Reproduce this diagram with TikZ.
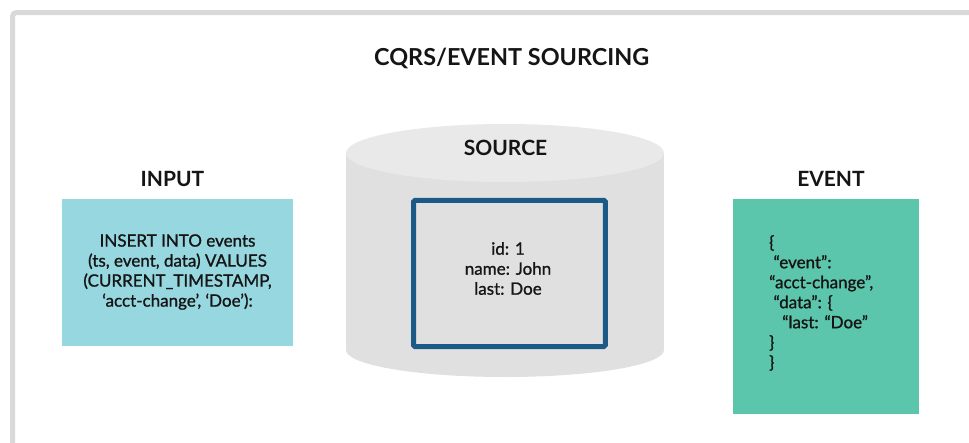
\documentclass[tikz,border=0pt]{standalone}
\usepackage{fontspec}
\setmainfont{Lato}
\newfontfamily\bodyfont{Lato}[FakeBold=1.1]
\definecolor{framegray}{HTML}{D9D9D9}
\definecolor{inputblue}{HTML}{97D7E0}
\definecolor{eventgreen}{HTML}{5BC6AB}
\definecolor{recordblue}{HTML}{1B5A86}
\definecolor{cylbody}{HTML}{E1E0E1}
\definecolor{cyltop}{HTML}{EAE9EA}
\definecolor{ink}{HTML}{151515}
\tikzset{
  heading/.style={font=\bfseries\fontsize{21}{24}\selectfont, text=ink, inner sep=0pt, anchor=base},
  bodytext/.style={font=\bodyfont\fontsize{17}{20}\selectfont, text=ink, inner sep=0pt, align=center},
  panel/.style={inner sep=0pt, draw=none},
}
\begin{document}
\begin{tikzpicture}[x=1pt,y=-1pt]
\useasboundingbox (0,0) rectangle (969,442);
\clip (0,0) rectangle (969,442);
\fill[white] (0,0) rectangle (969,442);
% outer frame, open to the right and bottom
\draw[framegray, line width=5pt, rounded corners=4pt] (990,12.5) -- (12.5,12.5) -- (12.5,470);

% title
\node[heading, font=\bfseries\fontsize{23.4}{26}\selectfont] (title) at (511.7,65) {CQRS/EVENT SOURCING};

% input panel
\node[heading] (inputlbl) at (172.5,186.7) {INPUT};
\node[panel, fill=inputblue, minimum width=231pt, minimum height=147pt] (input) at (177.5,272.5) {};
\node[bodytext] (inputtxt) at (177.5,272) {INSERT INTO events\\(ts, event, data) VALUES\\(CURRENT\_TIMESTAMP,\\‘acct-change’, ‘Doe’):};

% source store drawn as a cylinder
\fill[cylbody] (346,153) rectangle (664,350);
\fill[cylbody] (505,350) ellipse [x radius=159, y radius=27];
\fill[cyltop] (505,153) ellipse [x radius=159, y radius=29];
\node[heading] (sourcelbl) at (505.5,155) {SOURCE};
\node[panel, draw=recordblue, line width=5pt, rounded corners=1.5pt, minimum width=191.7pt, minimum height=146.3pt] (record) at (509.4,273.4) {};
\node[bodytext] (recordtxt) at (508,268.5) {id: 1\\name: John\\last: Doe};

% event panel
\node[heading] (eventlbl) at (831,186.7) {EVENT};
\node[panel, fill=eventgreen, minimum width=186pt, minimum height=215pt] (event) at (826,306.5) {};
\node[bodytext, align=left, anchor=north west] (eventtxt) at (769,235) {\{\\\ “event”:\\“acct-change”,\\\ “data”: \{\\\ \ \ “last: “Doe”\\\}\\\}};
\end{tikzpicture}
\end{document}
